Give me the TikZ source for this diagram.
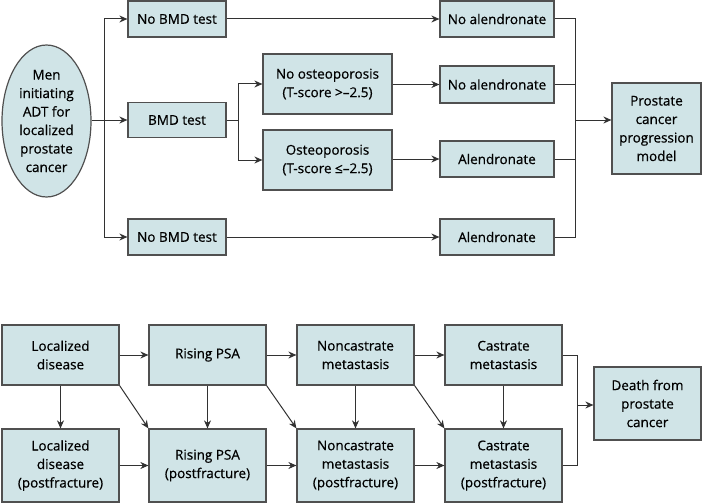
\documentclass[tikz,border=0pt]{standalone}
\usepackage{fontspec}
\setmainfont{Open Sans}[UprightFeatures={FakeBold=0.6}]
\usetikzlibrary{arrows.meta,shapes.geometric}
\definecolor{boxfill}{RGB}{208,228,231}
\definecolor{boxline}{RGB}{80,80,80}
\definecolor{linecol}{RGB}{50,50,50}
\begin{document}
\begin{tikzpicture}[x=1pt,y=-1pt,
  font=\fontsize{13.5}{18.5}\selectfont,
  box/.style={draw=boxline, fill=boxfill, line width=1.2pt, align=center, inner sep=0pt},
  arr/.style={-{Stealth[length=8pt,width=7pt]}, line width=1pt, draw=linecol},
  ln/.style={line width=1pt, draw=linecol}]
\useasboundingbox (0,0) rectangle (702,503);
% ---- top part ----
\node[box, ellipse, minimum width=89pt, minimum height=152pt] (men) at (46.5,121) {Men\\initiating\\ADT for\\localized\\prostate\\cancer};
\node[box, minimum width=98pt, minimum height=36pt] (nb1) at (177,19) {No BMD test};
\node[box, minimum width=98pt, minimum height=35pt] (bmd) at (177,120) {BMD test};
\node[box, minimum width=98pt, minimum height=36pt] (nb2) at (177,237) {No BMD test};
\node[box, minimum width=129pt, minimum height=60pt] (noost) at (327.5,84) {No osteoporosis\\(T-score >–2.5)};
\node[box, minimum width=129pt, minimum height=60pt] (ost) at (327.5,160) {Osteoporosis\\(T-score ≤–2.5)};
\node[box, minimum width=114pt, minimum height=36pt] (na1) at (497,19) {No alendronate};
\node[box, minimum width=114pt, minimum height=37pt] (na2) at (497,84.5) {No alendronate};
\node[box, minimum width=114pt, minimum height=36pt] (al1) at (497,159) {Alendronate};
\node[box, minimum width=114pt, minimum height=36pt] (al2) at (497,237) {Alendronate};
\node[box, minimum width=89pt, minimum height=91pt] (pcpm) at (656.5,128.5) {Prostate\\cancer\\progression\\model};
\coordinate (s1) at (104,120);
\coordinate (s2) at (238,120);
\coordinate (m1) at (575,120);
\draw[arr] (men.east |- s1) -- (bmd.west);
\draw[arr] (s1) |- (nb1.west);
\draw[arr] (s1) |- (nb2.west);
\draw[ln] (bmd.east) -- (s2);
\draw[arr] (s2) |- (noost.west);
\draw[arr] (s2) |- (ost.west);
\draw[arr] (nb1) -- (na1);
\draw[arr] (noost.east |- na2) -- (na2.west);
\draw[arr] (ost.east |- al1) -- (al1.west);
\draw[arr] (nb2) -- (al2);
\draw[ln] (na1.east) -| (m1);
\draw[ln] (al2.east) -| (m1);
\draw[ln] (na2.east) -| (m1);
\draw[ln] (al1.east) -| (m1);
\draw[arr] (m1) -- (pcpm.west |- m1);
% ---- bottom part ----
\node[box, minimum width=117pt, minimum height=60pt] (ld) at (60.5,355) {Localized\\disease};
\node[box, minimum width=117pt, minimum height=60pt] (rp) at (207.5,355) {Rising PSA};
\node[box, minimum width=117pt, minimum height=60pt] (nm) at (355.5,355) {Noncastrate\\metastasis};
\node[box, minimum width=117pt, minimum height=60pt] (cm) at (503.5,355) {Castrate\\metastasis};
\node[box, minimum width=117pt, minimum height=73pt] (ldp) at (60.5,465.5) {Localized\\disease\\(postfracture)};
\node[box, minimum width=117pt, minimum height=73pt] (rpp) at (207.5,465.5) {Rising PSA\\(postfracture)};
\node[box, minimum width=117pt, minimum height=73pt] (nmp) at (355.5,465.5) {Noncastrate\\metastasis\\(postfracture)};
\node[box, minimum width=117pt, minimum height=73pt] (cmp) at (503.5,465.5) {Castrate\\metastasis\\(postfracture)};
\node[box, minimum width=107pt, minimum height=73pt] (death) at (647.5,403.5) {Death from\\prostate\\cancer};
\coordinate (m2) at (577,405);
\draw[arr] (ld) -- (rp);
\draw[arr] (rp) -- (nm);
\draw[arr] (nm) -- (cm);
\draw[arr] (ldp) -- (rpp);
\draw[arr] (rpp) -- (nmp);
\draw[arr] (nmp) -- (cmp);
\draw[arr] (ld) -- (ldp);
\draw[arr] (rp) -- (rpp);
\draw[arr] (nm) -- (nmp);
\draw[arr] (cm) -- (cmp);
\draw[arr] (ld.south east) -- (rpp.north west);
\draw[arr] (rp.south east) -- (nmp.north west);
\draw[arr] (nm.south east) -- (cmp.north west);
\draw[ln] (cm.east) -| (m2);
\draw[ln] (cmp.east) -| (m2);
\draw[arr] (m2) -- (death.west |- m2);
\end{tikzpicture}
\end{document}
